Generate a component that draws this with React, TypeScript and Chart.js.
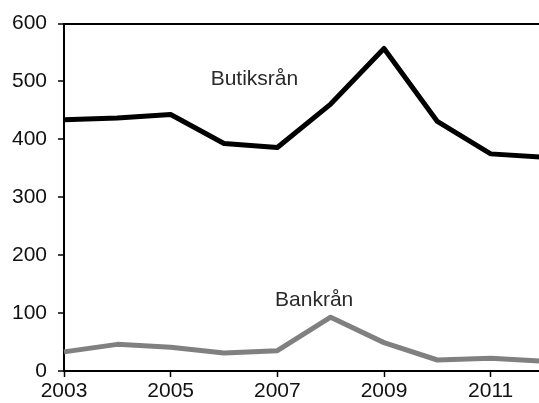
import React, { useEffect, useRef } from "react";
import { Chart, registerables } from "chart.js";

Chart.register(...registerables);

const years = ["2003", "2004", "2005", "2006", "2007", "2008", "2009", "2010", "2011", "2012"];
const butiksran = [434, 437, 443, 393, 386, 461, 557, 431, 375, 369];
const bankran = [33, 46, 41, 31, 35, 93, 49, 19, 22, 17];
const yTicks = [0, 100, 200, 300, 400, 500, 600];
const seriesLabels = ["Butiksrån", "Bankrån"];
// label anchor in data space: [x index, y value]
const labelAnchors: [number, number][] = [
  [3.57, 494],
  [4.69, 112],
];

const FONT = "Liberation Sans, Arial, sans-serif";

const labelPlugin = {
  id: "seriesLabels",
  afterDatasetsDraw(chart: any) {
    const { ctx, scales } = chart;
    ctx.save();
    ctx.font = `21px ${FONT}`;
    ctx.fillStyle = "#2a2a2a";
    ctx.textAlign = "center";
    ctx.textBaseline = "alphabetic";
    seriesLabels.forEach((t, i) => {
      const [xi, yv] = labelAnchors[i];
      ctx.fillText(t, scales.x.getPixelForValue(xi), scales.y.getPixelForValue(yv));
    });
    ctx.restore();
  },
};

export default function App() {
  const ref = useRef<HTMLCanvasElement | null>(null);
  useEffect(() => {
    document.body.style.margin = "0";
    const chart = new Chart(ref.current!, {
      type: "line",
      data: {
        labels: years,
        datasets: [
          {
            label: seriesLabels[0],
            data: butiksran,
            borderColor: "#000000",
            borderWidth: 5,
            pointRadius: 0,
            tension: 0,
            borderJoinStyle: "round",
          },
          {
            label: seriesLabels[1],
            data: bankran,
            borderColor: "#808080",
            borderWidth: 5,
            pointRadius: 0,
            tension: 0,
            borderJoinStyle: "round",
          },
        ],
      },
      options: {
        animation: false,
        responsive: false,
        devicePixelRatio: 1,
        layout: { padding: { top: 21, right: 3, left: 0, bottom: 0 } },
        plugins: { legend: { display: false }, tooltip: { enabled: false } },
        scales: {
          x: {
            type: "category",
            offset: false,
            grid: {
              display: true,
              drawOnChartArea: false,
              drawTicks: true,
              tickLength: 6,
              tickWidth: 1.5,
              tickColor: (c: any) => (c.index % 2 === 0 ? "#000" : "rgba(0,0,0,0)"),
            },
            border: { display: true, color: "#000", width: 2 },
            ticks: {
              autoSkip: false,
              maxRotation: 0,
              padding: 2,
              color: "#111",
              font: { family: FONT, size: 21 },
              callback: (_v: any, i: number) => (i % 2 === 0 ? years[i] : ""),
            },
            afterFit: (s: any) => {
              s.height = 32;
            },
          },
          y: {
            min: 0,
            max: 600,
            afterBuildTicks: (s: any) => {
              s.ticks = yTicks.map((v) => ({ value: v }));
            },
            grid: {
              drawTicks: true,
              tickLength: 6,
              tickWidth: 1.5,
              tickColor: "#000",
              lineWidth: 2,
              color: (c: any) => (c.tick && c.tick.value === 600 ? "#000" : "rgba(0,0,0,0)"),
            },
            border: { display: true, color: "#000", width: 2 },
            ticks: {
              padding: 11,
              color: "#111",
              font: { family: FONT, size: 21 },
            },
            afterFit: (s: any) => {
              s.width = 64;
            },
          },
        },
      },
      plugins: [labelPlugin],
    } as any);
    return () => chart.destroy();
  }, []);
  return (
    <div style={{ position: "fixed", left: 0, top: 0, width: 539, height: 403, overflow: "hidden", background: "#fff" }}>
      <canvas ref={ref} width={547} height={403} style={{ display: "block", width: 547, height: 403 }} />
    </div>
  );
}
